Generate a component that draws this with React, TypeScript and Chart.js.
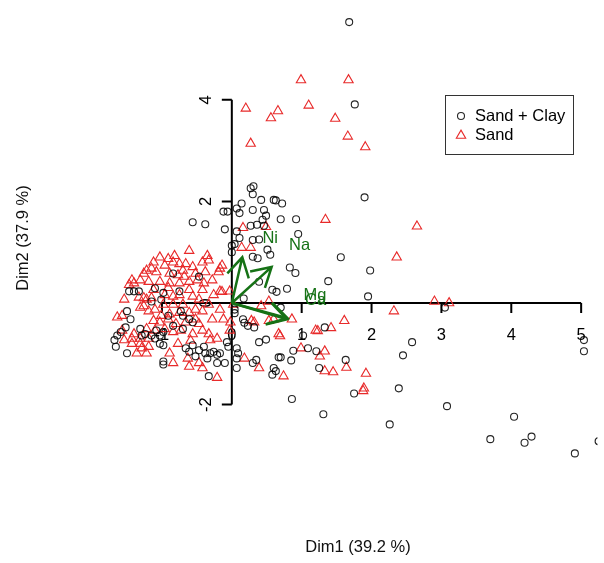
import React, { useEffect, useRef } from 'react';
import { Chart, registerables } from 'chart.js';

Chart.register(...registerables);

// ---- Data (individuals, PCA coordinates Dim1 / Dim2) ----
const sandClayX = [
  1.68, 1.76, 1.90, 1.56, 1.98, 1.38, 1.95, 0.79, 3.05, 1.33, 1.02, 2.58, 5.04, 5.04, 0.88, 1.09, 1.21, 0.70, 0.85, 2.45,
  1.63, 1.25, 2.39, 1.75, 0.86, 3.08, 4.04, 1.31, 2.26, 3.70, 4.19, 4.29, 4.91, 5.25,
  0.27, 0.31, 0.30, 0.42, 0.60, 0.63, 0.72, 0.14, 0.07, -0.12, 0.11, 0.30, 0.46, 0.49, 0.70, 0.92,
  0.36, 0.44, 0.27, 0.46, -0.10, 0.07, 0.11, 0.30, 0.39, 0.95, 0.04, 0.00, 0.51, 0.55, 0.30, 0.37,
  0.83, 0.91, 0.39, 0.58, 0.64, 0.17, -0.56, -0.38, -0.06, 0.00,
  0.04, 0.04, 0.16, 0.18, 0.23, 0.32, 0.70, -0.07, -0.05, 0.07, 0.09, 0.39, 0.49, 0.67, 0.35, 0.30,
  -0.10, 0.07, 0.60, 0.63, 0.58, 0.07,
  -0.84, -0.47, -1.47, -1.40, -1.33, -1.10, -0.75, -0.98, -1.01, -1.15, -1.50, -0.73, -0.91, -1.45,
  -1.52, -1.59, -1.64, -1.68, -1.66, -1.50, -1.31, -1.29, -1.24, -1.15, -1.08, -1.03, -0.98, -1.10,
  -1.03, -0.98, -0.84, -0.70, -0.61, -0.56, -0.66, -0.61, -0.56, -0.47, -0.40, -0.38, -0.31, -0.26,
  -0.21, -0.17, -0.98, -0.98, -0.33, -0.52, -0.35, -0.21, -0.70,
];
const sandClayY = [
  5.53, 3.91, 2.08, 0.90, 0.64, 0.43, 0.13, 0.28, -0.09, -0.48, -0.64, -0.77, -0.73, -0.95, -0.94, -0.89, -0.95, -1.07, -1.13, -1.03,
  -1.12, -1.28, -1.68, -1.78, -1.89, -2.03, -2.24, -2.19, -2.39, -2.68, -2.75, -2.63, -2.96, -2.72,
  2.26, 2.30, 2.14, 2.03, 2.03, 2.02, 1.96, 1.96, 1.86, 1.80, 1.77, 1.83, 1.83, 1.72, 1.65, 1.65,
  1.54, 1.64, 1.52, 1.52, 1.45, 1.41, 1.28, 1.24, 1.25, 1.36, 1.16, 1.00, 1.05, 0.95, 0.91, 0.88,
  0.70, 0.59, 0.42, 0.26, 0.22, 0.09, 1.59, 1.55, 1.80, 1.13,
  -0.13, -0.20, -0.32, -0.39, -0.45, -0.48, -0.09, -0.77, -0.86, -0.89, -0.99, -0.77, -0.72, -1.07, -1.12, -1.18,
  -1.18, -1.28, -1.28, -1.34, -1.41, -1.09,
  0.58, 0.52, 0.23, 0.23, 0.23, 0.29, 0.23, 0.20, 0.07, 0.03, -0.16, -0.16, -0.25, -0.32,
  -0.48, -0.57, -0.64, -0.73, -0.86, -0.99, -0.51, -0.64, -0.61, -0.64, -0.54, -0.64, -0.57, -0.70,
  -0.80, -0.83, -0.45, -0.51, -0.32, -0.38, -0.89, -0.96, -0.83, -0.93, -0.86, -0.99, -0.99, -0.96,
  -1.02, -0.99, -1.15, -1.21, -1.44, -1.05, -1.09, -1.18, -0.25,
];

const sandX = [
  0.99, 1.67, 0.20, 0.66, 0.56, 1.10, 1.48, 1.66, 0.27, 1.91, 2.65, 1.34, 2.36, 2.90, 3.11, 2.32,
  0.86, 1.61, 1.20, 1.23, 1.42, 0.99, 1.26, 1.33, 1.45, 1.64, 0.74, 1.92, 1.89, 1.88, 1.33,
  0.16, 0.49, 0.14, 0.27, -0.14, -0.03, -0.14, 0.53, 0.28, 0.32, 0.53, 0.60, 0.67, 0.69, 0.18, 0.39,
  0.02, 0.42, -0.03, -0.02, -0.21, -0.47,
  -0.61, -0.35, -0.33, -1.03, -0.91, -0.84, -0.75, -0.66, -1.15, -1.08, -0.96, -0.56, -0.52, -0.89,
  -0.77, -0.68, -0.19, -0.17, -0.38, -1.26, -1.40, -1.47, -1.31, -1.19, -1.03, -0.89, -0.75, -0.61,
  -0.49, -0.40, -0.42, -0.17, -1.26, -1.15, -0.61, -0.56, -0.47, -0.96, -0.84, -0.75, -0.33, -1.31,
  -1.19, -1.10, -1.01, -0.89, -0.75, -0.61, -0.52, -0.42, -1.12, -1.03, -0.91, -0.80, -0.66, -0.52,
  -0.47, -1.22, -1.10, -0.96, -0.84, -0.73, -1.40, -1.31, -1.43, -0.42, -0.33, -0.31, -0.21, -1.57,
  -1.29, -1.22, -1.36, -0.89, -1.57, -0.61, -1.22, -1.43, -1.22, -1.26, -1.54, -1.31, -1.19,
  -1.12, -0.82, -0.70, -0.28, -0.26, -0.70, -0.84, -0.98, -0.56, -0.59, -0.77, -1.19, -1.43,
  -0.84, -0.63, -0.42, -0.12, -0.17, -0.28, -0.91, -1.12, -1.33, -1.54, -1.64, -0.42,
];
const sandY = [
  4.39, 4.39, 3.83, 3.78, 3.64, 3.89, 3.63, 3.28, 3.14, 3.07, 1.51, 1.64, 0.90, 0.03, 0.00, -0.16,
  -0.32, -0.35, -0.54, -0.55, -0.49, -0.89, -1.05, -1.34, -1.36, -1.27, -1.44, -1.39, -1.68, -1.73, -0.95,
  1.48, 1.50, 1.09, 1.09, 0.74, 0.23, 0.22, 0.03, -0.35, -0.38, -0.35, -0.32, -0.61, -0.65, -1.09, -1.28,
  -0.03, -0.06, -0.54, -0.38, -1.47, -1.18,
  1.03, 0.93, 0.84, 0.90, 0.87, 0.80, 0.77, 0.77, 0.68, 0.61, 0.74, 0.71, 0.58, 0.58,
  0.55, 0.52, 0.61, 0.68, 0.61, 0.58, 0.39, 0.36, 0.45, 0.42, 0.42, 0.39, 0.39, 0.42,
  0.45, 0.39, 0.26, 0.23, 0.10, 0.10, 0.26, 0.13, 0.07, 0.16, 0.13, 0.16, -0.03, -0.09,
  -0.16, -0.13, -0.25, -0.22, -0.19, -0.19, -0.13, -0.16, -0.35, -0.38, -0.32, -0.41, -0.38, -0.32,
  -0.41, -0.51, -0.54, -0.51, -0.57, -0.54, -0.61, -0.70, -0.70, -0.54, -0.61, -0.73, -0.70, -0.54,
  -0.89, -0.99, -0.99, -0.99, -0.25, -1.25, 0.64, 0.45, 0.07, -0.06, -0.73, -0.80, -0.86,
  0.80, 0.93, 0.64, 0.45, 0.16, -0.03, -0.03, -0.03, -0.61, -0.74, -0.80, -0.70, -0.80,
  -1.18, -1.09, -1.28, -0.32, -0.13, -0.32, 0.30, 0.26, 0.11, 0.07, -0.28, 0.80,
];

// ---- Axes ----
const xTicks = [-1, 0, 1, 2, 3, 4, 5];
const xTickLabels = ['-1', '0', '1', '2', '3', '4', '5'];
const yTicks = [-2, 0, 2, 4];
const yTickLabels = ['-2', '0', '2', '4'];
const xTitle = 'Dim1 (39.2 %)';
const yTitle = 'Dim2 (37.9 %)';

// ---- Supplementary variable arrows ----
const arrowX = [0.15, 0.57, 0.79, 0.80];
const arrowY = [0.90, 0.71, -0.32, -0.30];
const varLabels = ['Ni', 'Na', 'Mg', 'Ca'];
const varLabelX = [0.55, 0.97, 1.19, 1.20];
const varLabelY = [1.28, 1.13, 0.14, 0.05];

// ---- Legend ----
const legendLabels = ['Sand + Clay', 'Sand'];

const CIRCLE_COLOR = 'rgba(0,0,0,0.85)';
const TRI_COLOR = '#e82a2a';
const GREEN = '#167216';
const FONT = '16.5px "Liberation Sans", Arial, Helvetica, sans-serif';

function drawTriangle(ctx: CanvasRenderingContext2D, x: number, y: number, r: number) {
  let rad = 0;
  ctx.beginPath();
  ctx.moveTo(x + Math.sin(rad) * r, y - Math.cos(rad) * r);
  rad += (2 * Math.PI) / 3;
  ctx.lineTo(x + Math.sin(rad) * r, y - Math.cos(rad) * r);
  rad += (2 * Math.PI) / 3;
  ctx.lineTo(x + Math.sin(rad) * r, y - Math.cos(rad) * r);
  ctx.closePath();
  ctx.stroke();
}

const biplotPlugin = {
  id: 'biplot',
  beforeDatasetsDraw(chart: any) {
    const { ctx, scales } = chart;
    const xs = scales.x;
    const ys = scales.y;
    const x0 = xs.getPixelForValue(0);
    const y0 = ys.getPixelForValue(0);
    ctx.save();
    ctx.strokeStyle = '#000';
    ctx.lineWidth = 2;
    ctx.beginPath();
    ctx.moveTo(xs.getPixelForValue(xTicks[0]), y0);
    ctx.lineTo(xs.getPixelForValue(xTicks[xTicks.length - 1]), y0);
    xTicks.forEach((v) => {
      const px = xs.getPixelForValue(v);
      ctx.moveTo(px, y0);
      ctx.lineTo(px, y0 + 10);
    });
    ctx.moveTo(x0, ys.getPixelForValue(yTicks[0]));
    ctx.lineTo(x0, ys.getPixelForValue(yTicks[yTicks.length - 1]));
    yTicks.forEach((v) => {
      const py = ys.getPixelForValue(v);
      ctx.moveTo(x0, py);
      ctx.lineTo(x0 - 10, py);
    });
    ctx.stroke();

    ctx.fillStyle = '#000';
    ctx.font = FONT;
    ctx.textAlign = 'center';
    ctx.textBaseline = 'middle';
    xTicks.forEach((v, i) => {
      ctx.fillText(xTickLabels[i], xs.getPixelForValue(v), y0 + 32);
    });
    yTicks.forEach((v, i) => {
      ctx.save();
      ctx.translate(x0 - 25, ys.getPixelForValue(v));
      ctx.rotate(-Math.PI / 2);
      ctx.fillText(yTickLabels[i], 0, 0);
      ctx.restore();
    });
    // axis titles
    ctx.fillStyle = '#111';
    ctx.fillText(xTitle, 358, 547);
    ctx.save();
    ctx.translate(23, 238);
    ctx.rotate(-Math.PI / 2);
    ctx.fillText(yTitle, 0, 0);
    ctx.restore();
    ctx.restore();
  },
  afterDatasetsDraw(chart: any) {
    const { ctx, scales } = chart;
    const xs = scales.x;
    const ys = scales.y;
    const x0 = xs.getPixelForValue(0);
    const y0 = ys.getPixelForValue(0);
    ctx.save();
    ctx.strokeStyle = GREEN;
    ctx.lineWidth = 2.5;
    ctx.lineJoin = 'miter';
    const len = 22;
    const ang = Math.PI / 6;
    arrowX.forEach((ax, i) => {
      const x1 = xs.getPixelForValue(ax);
      const y1 = ys.getPixelForValue(arrowY[i]);
      const a = Math.atan2(y1 - y0, x1 - x0);
      ctx.beginPath();
      ctx.moveTo(x0, y0);
      ctx.lineTo(x1, y1);
      ctx.moveTo(x1 - len * Math.cos(a - ang), y1 - len * Math.sin(a - ang));
      ctx.lineTo(x1, y1);
      ctx.lineTo(x1 - len * Math.cos(a + ang), y1 - len * Math.sin(a + ang));
      ctx.stroke();
    });
    ctx.fillStyle = GREEN;
    ctx.font = FONT;
    ctx.textAlign = 'center';
    ctx.textBaseline = 'middle';
    varLabels.forEach((t, i) => {
      ctx.fillText(t, xs.getPixelForValue(varLabelX[i]), ys.getPixelForValue(varLabelY[i]));
    });

    // legend
    ctx.fillStyle = '#fff';
    ctx.fillRect(445.5, 95.5, 128, 59);
    ctx.strokeStyle = '#333';
    ctx.lineWidth = 1;
    ctx.strokeRect(445.5, 95.5, 128, 59);
    ctx.lineWidth = 1.1;
    ctx.strokeStyle = CIRCLE_COLOR;
    ctx.beginPath();
    ctx.arc(461, 116, 3.5, 0, Math.PI * 2);
    ctx.stroke();
    ctx.strokeStyle = TRI_COLOR;
    drawTriangle(ctx, 461, 135.5, 5.4);
    ctx.fillStyle = '#000';
    ctx.textAlign = 'left';
    ctx.fillText(legendLabels[0], 475, 116);
    ctx.fillText(legendLabels[1], 475, 135);
    ctx.restore();
  },
};

export default function App() {
  const ref = useRef<HTMLCanvasElement | null>(null);
  useEffect(() => {
    document.body.style.margin = '0';
    const canvas = ref.current;
    if (!canvas) return;
    const chart = new Chart(canvas, {
      type: 'scatter',
      data: {
        datasets: [
          {
            label: legendLabels[0],
            data: sandClayX.map((x, i) => ({ x, y: sandClayY[i] })),
            pointStyle: 'circle',
            pointRadius: 3.5,
            pointBorderWidth: 1.1,
            pointBorderColor: CIRCLE_COLOR,
            pointBackgroundColor: 'rgba(0,0,0,0)',
          },
          {
            label: legendLabels[1],
            data: sandX.map((x, i) => ({ x, y: sandY[i] })),
            pointStyle: 'triangle',
            pointRadius: 5.4,
            pointBorderWidth: 1.1,
            pointBorderColor: TRI_COLOR,
            pointBackgroundColor: 'rgba(0,0,0,0)',
          },
        ],
      },
      options: {
        animation: false,
        responsive: false,
        devicePixelRatio: 1,
        events: [],
        layout: { padding: 0 },
        plugins: { legend: { display: false }, tooltip: { enabled: false }, title: { display: false } },
        scales: {
          x: { type: 'linear', min: -3.225, max: 5.234, display: false },
          y: { type: 'linear', min: -4.99, max: 5.837, display: false },
        },
      },
      plugins: [biplotPlugin],
    });
    return () => chart.destroy();
  }, []);
  return (
    <div style={{ width: 604, height: 563 }}>
      <canvas ref={ref} width={604} height={563} style={{ display: 'block' }} />
    </div>
  );
}
